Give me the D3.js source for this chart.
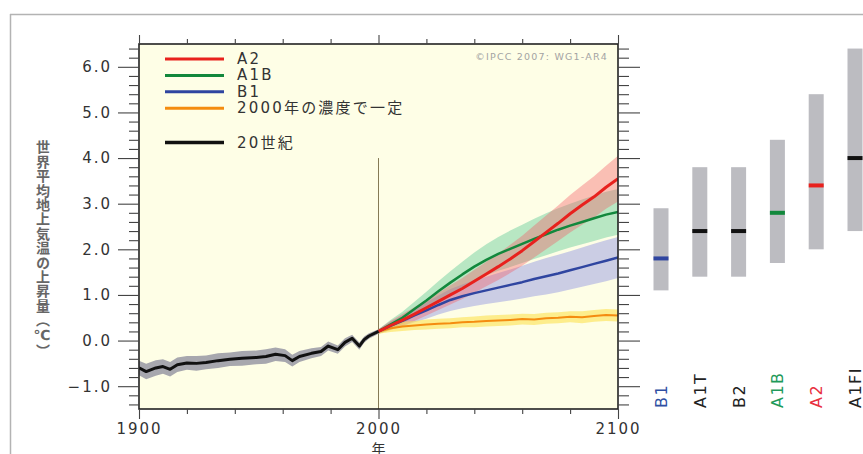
<!DOCTYPE html>
<html>
<head>
<meta charset="utf-8">
<script src="https://cdn.jsdelivr.net/npm/d3@7"></script>
<style>
  body { margin: 0; background: #fff; }
  svg { display: block; }
  text { font-family: "DejaVu Sans", "Noto Sans CJK JP", sans-serif; }
</style>
</head>
<body>
<div id="chart"></div>
<script>
// 20th century simulation
var histYears  = [1900, 1903, 1907, 1910, 1913, 1916, 1920, 1924, 1928, 1933, 1938, 1943, 1949, 1953,
                  1957, 1961, 1964, 1967, 1972, 1976, 1979, 1983, 1986, 1989, 1992, 1994, 1996, 2000];
var histMean   = [-0.60, -0.68, -0.60, -0.57, -0.63, -0.53, -0.49, -0.50, -0.48, -0.44, -0.41, -0.39, -0.37, -0.35,
                  -0.30, -0.33, -0.44, -0.35, -0.28, -0.24, -0.12, -0.20, -0.04, 0.05, -0.12, 0.02, 0.10, 0.20];
var histSpread = [0.16, 0.17, 0.17, 0.16, 0.16, 0.16, 0.15, 0.16, 0.15, 0.16, 0.15, 0.16, 0.15, 0.16,
                  0.15, 0.14, 0.13, 0.12, 0.11, 0.10, 0.10, 0.09, 0.09, 0.08, 0.08, 0.07, 0.06, 0.05];

// scenario projections (multi-model mean and +-1 sd)
var projYears = [2000, 2005, 2010, 2015, 2020, 2025, 2030, 2035, 2040, 2045, 2050,
                 2055, 2060, 2065, 2070, 2075, 2080, 2085, 2090, 2095, 2100];
var a2Mean    = [0.20, 0.33, 0.45, 0.58, 0.72, 0.86, 1.00, 1.14, 1.30, 1.46, 1.62,
                 1.79, 1.97, 2.17, 2.37, 2.57, 2.78, 2.97, 3.15, 3.36, 3.55];
var a2Spread  = [0.05, 0.10, 0.13, 0.15, 0.17, 0.19, 0.21, 0.23, 0.25, 0.27, 0.29,
                 0.31, 0.33, 0.35, 0.37, 0.39, 0.41, 0.43, 0.45, 0.47, 0.50];
var a1bMean   = [0.20, 0.35, 0.50, 0.69, 0.88, 1.08, 1.27, 1.45, 1.62, 1.77, 1.90,
                 2.01, 2.12, 2.23, 2.33, 2.43, 2.52, 2.60, 2.68, 2.76, 2.82];
var a1bSpread = [0.05, 0.10, 0.13, 0.16, 0.19, 0.22, 0.25, 0.28, 0.31, 0.34, 0.37,
                 0.40, 0.42, 0.44, 0.46, 0.47, 0.48, 0.49, 0.50, 0.50, 0.50];
var b1Mean    = [0.20, 0.32, 0.43, 0.55, 0.66, 0.78, 0.89, 0.97, 1.04, 1.10, 1.16,
                 1.22, 1.28, 1.35, 1.41, 1.47, 1.54, 1.61, 1.68, 1.75, 1.82];
var b1Spread  = [0.05, 0.09, 0.12, 0.15, 0.18, 0.21, 0.24, 0.26, 0.28, 0.30, 0.32,
                 0.34, 0.36, 0.38, 0.40, 0.41, 0.42, 0.43, 0.44, 0.45, 0.45];
var constMean   = [0.20, 0.27, 0.31, 0.33, 0.35, 0.37, 0.38, 0.40, 0.41, 0.43, 0.44,
                   0.45, 0.47, 0.46, 0.49, 0.50, 0.52, 0.51, 0.54, 0.56, 0.55];
var constSpread = [0.05, 0.08, 0.10, 0.10, 0.11, 0.11, 0.11, 0.11, 0.12, 0.12, 0.12,
                   0.12, 0.12, 0.12, 0.12, 0.12, 0.12, 0.13, 0.13, 0.13, 0.13];

// likely ranges at 2090-2099 (right panel)
var scenarios = ["B1", "A1T", "B2", "A1B", "A2", "A1FI"];
var bestEst   = [1.8, 2.4, 2.4, 2.8, 3.4, 4.0];
var rangeLow  = [1.1, 1.4, 1.4, 1.7, 2.0, 2.4];
var rangeHigh = [2.9, 3.8, 3.8, 4.4, 5.4, 6.4];

var legendLabels = ["A2", "A1B", "B1", "2000年の濃度で一定", "20世紀"];
var yMajorTicks = [-1, 0, 1, 2, 3, 4, 5, 6];
var xMajorTicks = [1900, 2000, 2100];

var W = 863, H = 454;
var svg = d3.select("#chart").append("svg").attr("width", W).attr("height", H);

var x = d3.scaleLinear().domain([1900, 2100]).range([139, 618]);
var y = d3.scaleLinear().domain([-1.5, 6.5]).range([409, 44]);
var xs = d3.scalePoint().domain(scenarios).range([661, 855]);

var col = { A2: "#e8211d", A1B: "#12883c", B1: "#2f45a0", K: "#f48c10", H: "#111" };

// outer frame
svg.append("line").attr("x1", 10).attr("x2", W).attr("y1", 14.5).attr("y2", 14.5)
   .attr("stroke", "#b3b3b3").attr("stroke-width", 1.5);
svg.append("line").attr("x1", 10.5).attr("x2", 10.5).attr("y1", 14).attr("y2", H)
   .attr("stroke", "#b3b3b3").attr("stroke-width", 1.5);

// plot background
svg.append("rect").attr("x", x(1900)).attr("y", y(6.5))
   .attr("width", x(2100) - x(1900)).attr("height", y(-1.5) - y(6.5))
   .attr("fill", "#fefee6");

svg.append("clipPath").attr("id", "clip").append("rect")
   .attr("x", x(1900)).attr("y", y(6.5))
   .attr("width", x(2100) - x(1900)).attr("height", y(-1.5) - y(6.5));

var plot = svg.append("g").attr("clip-path", "url(#clip)");

// 2000 divider
plot.append("line").attr("x1", x(2000)).attr("x2", x(2000)).attr("y1", y(4.0)).attr("y2", y(-1.5))
   .attr("stroke", "#857a55").attr("stroke-width", 1);

function rows(years, mean, spread) {
  return years.map(function(yr, i) { return { t: yr, m: mean[i], s: spread[i] }; });
}
var area = d3.area().x(function(d) { return x(d.t); })
   .y0(function(d) { return y(d.m - d.s); })
   .y1(function(d) { return y(d.m + d.s); });
var line = d3.line().x(function(d) { return x(d.t); }).y(function(d) { return y(d.m); });

var series = [
  { d: rows(projYears, b1Mean, b1Spread),      band: "rgba(120,125,225,0.38)", c: col.B1, w: 2.5 },
  { d: rows(projYears, a1bMean, a1bSpread),    band: "rgba(70,195,140,0.38)",  c: col.A1B, w: 2.5 },
  { d: rows(projYears, a2Mean, a2Spread),      band: "rgba(245,90,100,0.38)",  c: col.A2, w: 3 },
  { d: rows(projYears, constMean, constSpread), band: "rgba(252,225,80,0.6)",  c: col.K, w: 2 },
  { d: rows(histYears, histMean, histSpread),  band: "#a7a7ae",                c: col.H, w: 3 }
];

plot.selectAll(".band").data(series).enter().append("path")
   .attr("class", "band")
   .attr("d", function(s) { return area(s.d); })
   .attr("fill", function(s) { return s.band; });

var lineOrder = [3, 0, 1, 2, 4];
plot.selectAll(".ser").data(lineOrder.map(function(i) { return series[i]; })).enter().append("path")
   .attr("class", "ser")
   .attr("d", function(s) { return line(s.d); })
   .attr("fill", "none")
   .attr("stroke", function(s) { return s.c; })
   .attr("stroke-width", function(s) { return s.w; })
   .attr("stroke-linejoin", "round");

// plot border
svg.append("rect").attr("x", x(1900)).attr("y", y(6.5))
   .attr("width", x(2100) - x(1900)).attr("height", y(-1.5) - y(6.5))
   .attr("fill", "none").attr("stroke", "#222").attr("stroke-width", 1.6);

// axes
var yMinor = d3.range(-14, 65, 2).map(function(v) { return v / 10; })
   .filter(function(v) { return Math.abs(v - Math.round(v)) > 0.01; });
var xMinor = d3.range(1920, 2100, 20).filter(function(v) { return v !== 2000; });

function styleAxis(g) {
  g.select(".domain").remove();
  g.selectAll(".tick line").attr("stroke", "#444").attr("stroke-width", 1.1);
  g.selectAll(".tick text").attr("fill", "#333").style("font-size", "15px")
   .style("letter-spacing", "2px").style("font-family", "DejaVu Sans, sans-serif");
}

svg.append("g").attr("transform", "translate(" + x(1900) + ",0)")
   .call(d3.axisLeft(y).tickValues(yMinor).tickSize(10).tickFormat("")).call(styleAxis);
svg.append("g").attr("transform", "translate(" + x(1900) + ",0)")
   .call(d3.axisLeft(y).tickValues(yMajorTicks).tickSize(21).tickPadding(6)
     .tickFormat(function(v) { return d3.format(".1f")(v).replace("-", "−"); }))
   .call(styleAxis);
svg.append("g").attr("transform", "translate(" + x(2100) + ",0)")
   .call(d3.axisRight(y).tickValues(yMinor).tickSize(11).tickFormat("")).call(styleAxis);
svg.append("g").attr("transform", "translate(" + x(2100) + ",0)")
   .call(d3.axisRight(y).tickValues(yMajorTicks).tickSize(22).tickFormat("")).call(styleAxis);

svg.append("g").attr("transform", "translate(0," + y(-1.5) + ")")
   .call(d3.axisBottom(x).tickValues(xMinor).tickSize(5).tickFormat("")).call(styleAxis);
svg.append("g").attr("transform", "translate(0," + y(-1.5) + ")")
   .call(d3.axisBottom(x).tickValues(xMajorTicks).tickSize(10).tickPadding(4).tickFormat(d3.format("d")))
   .call(styleAxis);
svg.append("g").attr("transform", "translate(0," + y(6.5) + ")")
   .call(d3.axisTop(x).tickValues(xMinor).tickSize(5).tickFormat("")).call(styleAxis);
svg.append("g").attr("transform", "translate(0," + y(6.5) + ")")
   .call(d3.axisTop(x).tickValues(xMajorTicks).tickSize(9).tickFormat("")).call(styleAxis);

// axis titles
svg.append("text").attr("x", x(2000)).attr("y", 454).attr("text-anchor", "middle")
   .attr("fill", "#333").style("font-size", "14px").text("年");
svg.append("text").attr("x", 42).attr("y", 140)
   .style("writing-mode", "vertical-rl").style("font-size", "14px").style("font-weight", "bold")
   .style("letter-spacing", "0.4px").attr("fill", "#666")
   .text("世界平均地上気温の上昇量（℃）");

// legend
var legendColors = [col.A2, col.A1B, col.B1, col.K, col.H];
var lg = svg.selectAll(".lg").data(legendLabels).enter().append("g").attr("class", "lg")
   .attr("transform", function(d, i) { return "translate(165," + (59 + i * 16.4 + (i === 4 ? 18 : 0)) + ")"; });
lg.append("line").attr("x1", 0).attr("x2", 59)
   .attr("stroke", function(d, i) { return legendColors[i]; })
   .attr("stroke-width", function(d, i) { return i === 4 ? 3.5 : 3; });
lg.append("text").attr("x", 72).attr("y", 5).attr("fill", "#333")
   .style("font-size", "15px").style("letter-spacing", "2.2px").text(function(d) { return d; });

svg.append("text").attr("x", 608).attr("y", 60).attr("text-anchor", "end")
   .attr("fill", "#a3a3a3").style("font-size", "9.5px").style("letter-spacing", "1.2px")
   .text("©IPCC 2007: WG1-AR4");

// right panel: likely ranges
var barColors = [col.B1, "#111", "#111", col.A1B, col.A2, "#111"];
var labelColors = ["#2f4fa3", "#222", "#222", "#1f9a5a", "#e8303f", "#222"];
var bw = 15;
svg.selectAll(".rng").data(scenarios).enter().append("rect").attr("class", "rng")
   .attr("x", function(d) { return xs(d) - bw / 2; })
   .attr("y", function(d, i) { return y(rangeHigh[i]); })
   .attr("width", bw)
   .attr("height", function(d, i) { return y(rangeLow[i]) - y(rangeHigh[i]); })
   .attr("fill", "#bcbcc1");
svg.selectAll(".best").data(scenarios).enter().append("rect").attr("class", "best")
   .attr("x", function(d) { return xs(d) - bw / 2; })
   .attr("y", function(d, i) { return y(bestEst[i]) - 2; })
   .attr("width", bw).attr("height", 4)
   .attr("fill", function(d, i) { return barColors[i]; });
svg.selectAll(".scl").data(scenarios).enter().append("text").attr("class", "scl")
   .attr("transform", function(d) { return "translate(" + (xs(d) + 6) + ",408) rotate(-90)"; })
   .attr("fill", function(d, i) { return labelColors[i]; })
   .style("font-size", "16px").style("letter-spacing", "1.5px")
   .text(function(d) { return d; });
</script>
</body>
</html>
